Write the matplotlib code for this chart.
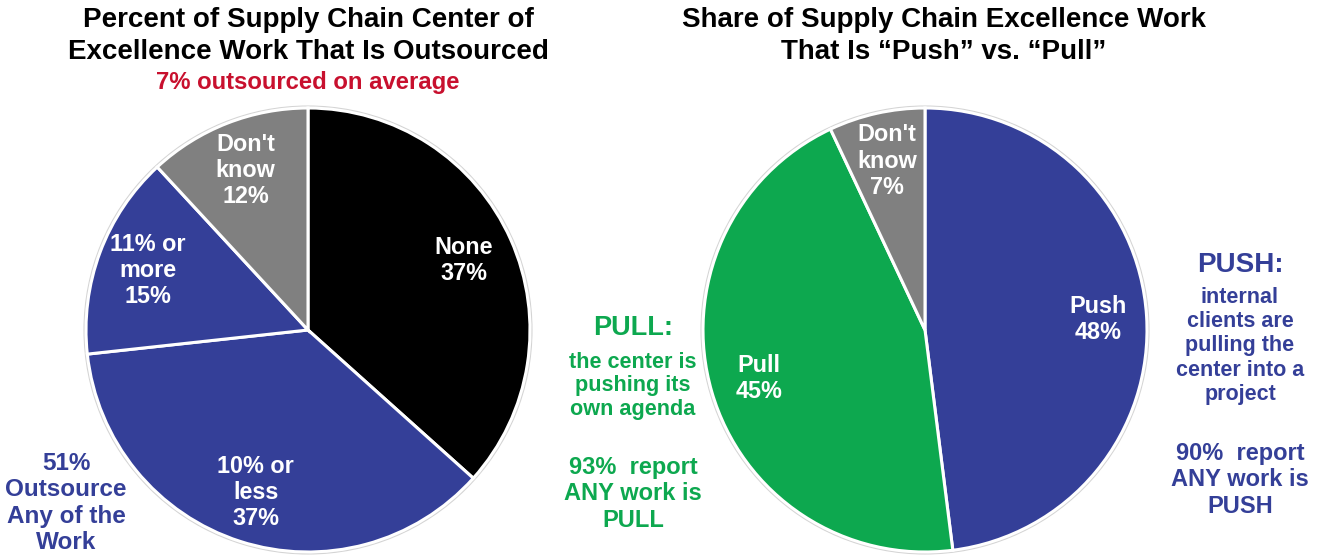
import matplotlib.pyplot as plt
from matplotlib.patches import Circle

# dane z wykresu
left_labels = ["None\n37%", "10% or\nless\n37%", "11% or\nmore\n15%", "Don't\nknow\n12%"]
left_values = [37, 37, 15, 12]
right_labels = ["Push\n48%", "Pull\n45%", "Don't\nknow\n7%"]
right_values = [48, 45, 7]

BLUE = "#343f98"
GREEN = "#0da84f"
GRAY = "#808080"
RED = "#c8102e"

left_colors = ["#000000", BLUE, BLUE, GRAY]
right_colors = [BLUE, GREEN, GRAY]

plt.rcParams['font.family'] = ['Liberation Sans', 'DejaVu Sans']
plt.rcParams['font.weight'] = 'bold'

W, H = 1320, 558
fig = plt.figure(figsize=(W / 100, H / 100), dpi=100)
ax = fig.add_axes([0, 0, 1, 1])

R = 222
wp = dict(edgecolor="white", linewidth=2.2)

def draw_pie(values, labels, colors, cx, cy, dist):
    # cienka szara obwodka jak w oryginale
    ax.add_patch(Circle((cx, cy), R + 1.5, facecolor="none", edgecolor="#d4d4d4", lw=1.5))
    wedges, texts = ax.pie(values, labels=labels, colors=colors, center=(cx, cy),
                           radius=R, startangle=90, counterclock=False,
                           labeldistance=dist, wedgeprops=wp)
    for t in texts:
        t.set_ha("center")
        t.set_va("center")
        t.set_color("white")
        t.set_fontsize(16.8)
        t.set_fontweight("bold")
        t.set_linespacing(1.17)
    return wedges

def y(py):
    return H - py

draw_pie(left_values, left_labels, left_colors, 308, y(330), 0.77)
draw_pie(right_values, right_labels, right_colors, 925, y(330), 0.78)

ax.set_xlim(0, W)
ax.set_ylim(0, H)
ax.set_aspect("equal")
ax.axis("off")

# tytuly
ax.text(308, y(36), "Percent of Supply Chain Center of\nExcellence Work That Is Outsourced",
        ha="center", va="center", fontsize=20, linespacing=1.27)
ax.text(308, y(82), "7% outsourced on average", ha="center", va="center",
        fontsize=17.2, color=RED)
ax.text(944, y(36), "Share of Supply Chain Excellence Work\nThat Is \u201cPush\u201d vs. \u201cPull\u201d",
        ha="center", va="center", fontsize=20, linespacing=1.27)

# adnotacje
ax.text(66, y(503), "51%\nOutsource\nAny of the\nWork", ha="center", va="center",
        fontsize=17.5, color=BLUE, linespacing=1.2)

ax.text(633, y(328), "PULL:", ha="center", va="center", fontsize=19.5, color=GREEN)
ax.text(633, y(386), "the center is\npushing its\nown agenda", ha="center", va="center",
        fontsize=15.6, color=GREEN, linespacing=1.17)
ax.text(633, y(494), "93%  report\nANY work is\nPULL", ha="center", va="center",
        fontsize=17, color=GREEN, linespacing=1.17)

ax.text(1240, y(265), "PUSH:", ha="center", va="center", fontsize=20, color=BLUE)
ax.text(1240, y(346), "internal\nclients are\npulling the\ncenter into a\nproject",
        ha="center", va="center", fontsize=15.5, color=BLUE, linespacing=1.2)
ax.text(1240, y(480), "90%  report\nANY work is\nPUSH", ha="center", va="center",
        fontsize=17, color=BLUE, linespacing=1.17)

fig.savefig("out.png", dpi=100)
